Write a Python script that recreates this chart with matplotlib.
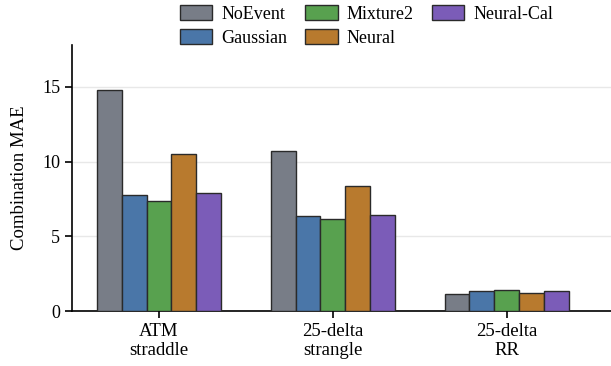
import numpy as np
import matplotlib
matplotlib.use("Agg")
from matplotlib import pyplot as plt

plt.rcParams['font.family'] = ['Liberation Serif', 'DejaVu Serif']

categories = ['ATM\nstraddle', '25-delta\nstrangle', '25-delta\nRR']
models = ['NoEvent', 'Gaussian', 'Mixture2', 'Neural', 'Neural-Cal']
mae_noevent = [14.8, 10.72, 1.14]
mae_gaussian = [7.77, 6.36, 1.34]
mae_mixture2 = [7.37, 6.16, 1.41]
mae_neural = [10.5, 8.37, 1.2]
mae_neuralcal = [7.9, 6.43, 1.34]

values = [mae_noevent, mae_gaussian, mae_mixture2, mae_neural, mae_neuralcal]
colors = ['#787d87', '#4a76a8', '#58a14f', '#b87a2e', '#7b5cb8']

fig = plt.figure(figsize=(6.11, 3.66), dpi=100)
ax = fig.add_axes([0.118, 0.150, 0.882, 0.727])

x = np.arange(len(categories))
width = 0.143
for i, (name, vals) in enumerate(zip(models, values)):
    ax.bar(x + (i - 2) * width, vals, width, color=colors[i], edgecolor='#2a2a2a',
           linewidth=1.0, label=name, zorder=3)

ax.set_xlim(-0.5, 2.6)
ax.set_ylim(0, 17.8)
ax.set_yticks([0, 5, 10, 15])
ax.set_xticks(x)
ax.set_xticklabels(categories, fontsize=13.5, linespacing=1.15)
ax.tick_params(axis='y', labelsize=13)
ax.tick_params(axis='both', length=5, width=1.2)
ax.set_ylabel('Combination MAE', fontsize=13.5, labelpad=10)
ax.grid(axis='y', color='#e8e8e8', linewidth=1.0, zorder=0)
ax.spines['top'].set_visible(False)
ax.spines['right'].set_visible(False)
for s in ['left', 'bottom']:
    ax.spines[s].set_linewidth(1.2)

fig.legend(loc='upper center', bbox_to_anchor=(0.6, 1.03), ncol=3, frameon=False,
           fontsize=13, handlelength=1.8, handleheight=0.9, columnspacing=1.0,
           labelspacing=0.35, handletextpad=0.5)

fig.savefig('out.png', dpi=100)
